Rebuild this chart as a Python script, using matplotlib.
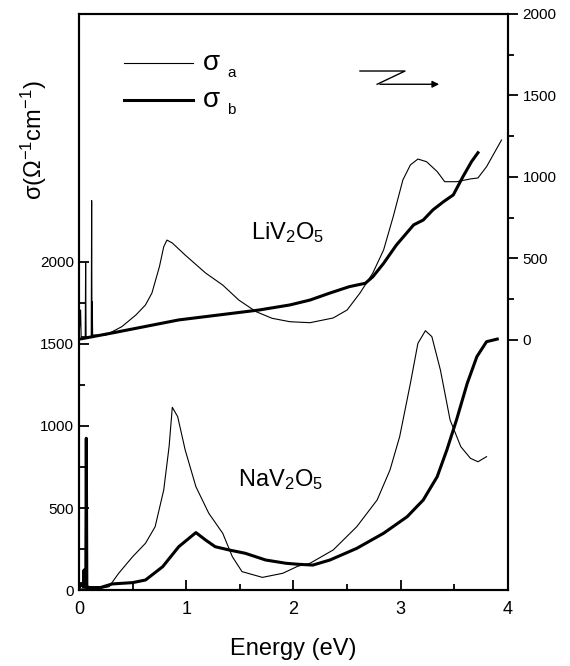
import numpy as np
import matplotlib.pyplot as plt

plt.rcParams['font.family'] = ['Liberation Sans', 'DejaVu Sans']
plt.rcParams['mathtext.default'] = 'regular'

# NaV2O5, left axis
na_a_E = [0.0, 0.1, 0.2, 0.28, 0.37, 0.5, 0.62, 0.71, 0.79, 0.84, 0.87, 0.92, 0.99, 1.09,
          1.21, 1.34, 1.43, 1.52, 1.71, 1.9, 2.04, 2.154, 2.37, 2.59, 2.78, 2.9, 2.99,
          3.09, 3.16, 3.23, 3.29, 3.37, 3.46, 3.56, 3.65, 3.72, 3.8]
na_a = [5, 10, 10, 20, 102, 203, 285, 386, 610, 874, 1114, 1057, 854, 630,
        468, 346, 203, 112, 77, 102, 145, 163, 244, 386, 549, 732, 935,
        1260, 1504, 1581, 1545, 1341, 1037, 874, 803, 782, 813]

na_b_E = [0.0, 0.02, 0.04, 0.047, 0.052, 0.063, 0.068, 0.073, 0.1, 0.2, 0.31, 0.5, 0.62,
          0.78, 0.93, 1.09, 1.18, 1.27, 1.4, 1.55, 1.74, 1.93, 2.04, 2.18, 2.34, 2.59,
          2.84, 3.06, 3.21, 3.34, 3.43, 3.52, 3.62, 3.71, 3.8, 3.9]
na_b = [10, 40, 20, 122, 25, 20, 925, 20, 15, 15, 37, 45, 61,
        142, 264, 350, 305, 264, 244, 224, 183, 163, 157, 152, 183, 254,
        346, 447, 549, 691, 854, 1037, 1260, 1423, 1514, 1530]

# LiV2O5, right axis
li_a_E = [0.0, 0.015, 0.02, 0.025, 0.058, 0.062, 0.066, 0.114, 0.118, 0.121, 0.124, 0.127,
          0.25, 0.4, 0.53, 0.62, 0.68, 0.75, 0.79, 0.82, 0.87, 0.99, 1.18, 1.34, 1.49,
          1.65, 1.8, 1.967, 2.154, 2.37, 2.5, 2.62, 2.74, 2.84, 2.93, 3.02, 3.09,
          3.16, 3.24, 3.34, 3.41, 3.52, 3.65, 3.72, 3.8, 3.94]
li_a = [10, 184, 20, 20, 20, 472, 20, 20, 855, 30, 235, 30,
        30, 82, 153, 215, 288, 450, 572, 613, 595, 521, 411, 337, 245,
        174, 133, 112, 106, 135, 184, 288, 411, 552, 757, 982, 1074,
        1110, 1094, 1033, 971, 971, 988, 994, 1063, 1227]

li_b_E = [0.0, 0.06, 0.31, 0.93, 1.68, 1.967, 2.154, 2.34, 2.52, 2.67, 2.74, 2.84, 2.96,
          3.12, 3.21, 3.3, 3.4, 3.49, 3.58, 3.66, 3.72]
li_b = [5, 12, 43, 123, 184, 215, 245, 288, 327, 348, 388, 470, 583,
        706, 736, 798, 849, 890, 1002, 1094, 1149]

fig = plt.figure(figsize=(5.7, 6.66), dpi=100)
ax = fig.add_axes([0.1386, 0.1141, 0.7526, 0.8649])
ax2 = ax.twinx()

ax.plot(na_a_E, na_a, color='black', lw=0.8)
ax.plot(na_b_E, na_b, color='black', lw=2.2)
ax2.plot(li_a_E, li_a, color='black', lw=0.8)
ax2.plot(li_b_E, li_b, color='black', lw=2.2)

ax.set_xlim(0, 4)
ax.set_ylim(0, 3512)
ax2.set_ylim(-1534, 2000)

ax.set_xticks([0, 1, 2, 3, 4])
ax.set_xticks([0.5, 1.5, 2.5, 3.5], minor=True)
ax.set_yticks([0, 500, 1000, 1500, 2000])
ax.set_yticks([250, 750, 1250, 1750], minor=True)
ax2.set_yticks([0, 500, 1000, 1500, 2000])
ax2.set_yticks([250, 750, 1250, 1750], minor=True)

ax.tick_params(axis='both', which='major', direction='in', length=7, width=1.3, labelsize=11)
ax.tick_params(axis='both', which='minor', direction='in', length=4, width=1.3)
ax.tick_params(axis='x', labelsize=13, pad=8)
ax2.tick_params(axis='y', which='major', direction='out', length=7, width=1.3, labelsize=11)
ax2.tick_params(axis='y', which='minor', direction='out', length=4, width=1.3)

for a in (ax, ax2):
    for s in a.spines.values():
        s.set_linewidth(1.5)

ax.set_xlabel('Energy (eV)', fontsize=17, labelpad=14)
fig.text(0.06, 0.79, r'σ(Ω$^{-1}$cm$^{-1}$)', rotation=90, fontsize=17,
         ha='center', va='center')

# legend drawn by hand
ax.plot([0.105, 0.266], [0.915, 0.915], color='black', lw=0.8, transform=ax.transAxes)
ax.plot([0.105, 0.266], [0.851, 0.851], color='black', lw=2.2, transform=ax.transAxes)
ax.text(0.288, 0.915, 'σ', fontsize=20, transform=ax.transAxes, va='center')
ax.text(0.345, 0.897, 'a', fontsize=11, transform=ax.transAxes, va='center')
ax.text(0.288, 0.851, 'σ', fontsize=20, transform=ax.transAxes, va='center')
ax.text(0.345, 0.833, 'b', fontsize=11, transform=ax.transAxes, va='center')

# zigzag arrow
ax.plot([0.655, 0.760, 0.695], [0.901, 0.901, 0.878], color='black', lw=1.0,
        transform=ax.transAxes)
ax.annotate('', xy=(0.846, 0.878), xytext=(0.695, 0.878), xycoords='axes fraction',
            arrowprops=dict(arrowstyle='-|>', color='black', lw=1.0, mutation_scale=10))

ax.text(0.40, 0.61, 'LiV$_2$O$_5$', fontsize=17, transform=ax.transAxes)
ax.text(0.37, 0.18, 'NaV$_2$O$_5$', fontsize=17, transform=ax.transAxes)

fig.savefig('out.png', dpi=100)
